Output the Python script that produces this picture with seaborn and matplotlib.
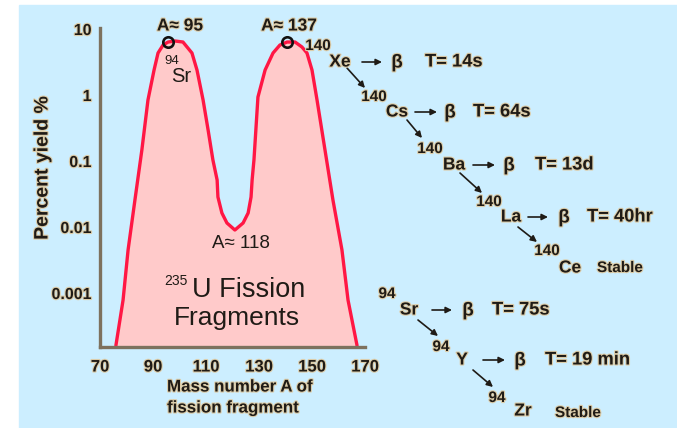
import matplotlib
matplotlib.use("Agg")
import matplotlib.pyplot as plt
import matplotlib.patheffects as pe
from matplotlib.ticker import FixedLocator, FixedFormatter, NullLocator
import seaborn as sns
import pandas as pd

# ---------------- data ----------------
mass_number = [76.0, 78.7, 80.6, 83.2, 85.8, 88.1, 90.4, 91.9, 93.8, 95.7, 98.3, 101.3,
               104.7, 106.6, 108.9, 110.8, 112.6, 114.2, 114.5, 116.0, 117.9, 120.9,
               124.0, 125.9, 127.0, 127.4, 128.1, 129.6, 132.3, 135.3, 137.9, 140.6,
               143.6, 146.2, 148.1, 150.0, 151.9, 154.9, 157.9, 161.3, 163.6, 167.0]
yield_pct = [1.6e-4, 7.8e-4, 4.5e-3, 0.026, 0.147, 0.84, 2.39, 4.33, 5.72, 6.35, 6.58, 6.35,
             4.33, 2.39, 0.84, 0.294, 0.104, 0.0515, 0.0285, 0.0163, 0.0115, 0.0090,
             0.0115, 0.0163, 0.0285, 0.0515, 0.104, 0.93, 2.39, 4.33, 5.72, 6.35,
             6.35, 5.34, 4.33, 2.39, 0.84, 0.147, 0.0257, 4.5e-3, 7.8e-4, 1.6e-4]
peak_A = [95.7, 140.6]
peak_yield = [6.35, 6.35]

x_ticks = [70, 90, 110, 130, 150, 170]
y_ticks = [10, 1, 0.1, 0.01, 0.001]
y_tick_labels = ["10", "1", "0.1", "0.01", "0.001"]

peak_labels = ["A\u2248 95", "A\u2248 137"]
valley_label = "A\u2248 118"

chain140_nuclides = ["Xe", "Cs", "Ba", "La", "Ce"]
chain140_halflives = ["T= 14s", "T= 64s", "T= 13d", "T= 40hr", "Stable"]
chain94_nuclides = ["Sr", "Y", "Zr"]
chain94_halflives = ["T= 75s", "T= 19 min", "Stable"]

# ---------------- figure ----------------
W, H = 677, 428
sns.set_style("white")
plt.rcParams["font.family"] = ["Liberation Sans", "DejaVu Sans"]

fig = plt.figure(figsize=(W / 100, H / 100), dpi=100, facecolor="white")
BG = "#cceeff"
fig.patches.append(plt.Rectangle((19 / W, 0), 1 - 19 / W, 1 - 5 / H,
                                 transform=fig.transFigure, color=BG, zorder=-10))


def P(x, y):
    return (x / W, 1 - y / H)


ax_left, ax_right, ax_top, ax_bot = 100, 365, 27.6, 347
ax = fig.add_axes([ax_left / W, 1 - ax_bot / H, (ax_right - ax_left) / W, (ax_bot - ax_top) / H])
ax.set_facecolor("none")
ax.set_zorder(2)

df = pd.DataFrame({"A": mass_number, "Y": yield_pct})
ax.set_yscale("log")
ax.fill_between(df["A"], df["Y"], 1e-6, color="#ffcaca", lw=0, zorder=1)
sns.lineplot(data=df, x="A", y="Y", ax=ax, color="#ff1744", linewidth=2.4,
             sort=False, zorder=3, solid_joinstyle="round")
ax.plot(peak_A, peak_yield, "o", mfc="none", mec="#111111", ms=7.5, mew=1.9,
        zorder=4, clip_on=False)

ax.set_xlim(70, 170)
ax.set_ylim(1.52e-4, 10.5)

spine_c = "#7d715e"
for s in ["top", "right"]:
    ax.spines[s].set_visible(False)
for s in ["left", "bottom"]:
    ax.spines[s].set_color(spine_c)
    ax.spines[s].set_linewidth(2.4)
    ax.spines[s].set_zorder(5)

halo = [pe.withStroke(linewidth=1.6, foreground="#dccdaa")]
txt_c = "#1f1b16"

ax.xaxis.set_major_locator(FixedLocator(x_ticks))
ax.yaxis.set_major_locator(FixedLocator(y_ticks))
ax.yaxis.set_major_formatter(FixedFormatter(y_tick_labels))
ax.yaxis.set_minor_locator(NullLocator())
ax.xaxis.set_minor_locator(NullLocator())
ax.tick_params(axis="y", direction="in", length=8, width=2.2, color=spine_c,
               pad=6, labelsize=11.5, labelcolor=txt_c)
ax.tick_params(axis="x", direction="out", length=5, width=2.0, color=spine_c,
               pad=4, labelsize=12, labelcolor=txt_c)
for lab in ax.get_xticklabels() + ax.get_yticklabels():
    lab.set_fontweight("bold")
    lab.set_path_effects(halo)
ax.set_xlabel("")
ax.set_ylabel("")


def T(x, y, s, size=12, weight="bold", ha="center", va="center", **kw):
    t = fig.text(*P(x, y), s, fontsize=size, fontweight=weight, ha=ha, va=va,
                 color=txt_c, zorder=6, **kw)
    if weight == "bold":
        t.set_path_effects(halo)
    return t


def arrow(x1, y1, x2, y2):
    ax.annotate("", xy=P(x2, y2), xytext=P(x1, y1), xycoords="figure fraction",
                textcoords="figure fraction", annotation_clip=False,
                arrowprops=dict(arrowstyle="-|>", color="#1f1b16", lw=1.2,
                                mutation_scale=9, shrinkA=0, shrinkB=0))


# axis labels
T(43, 168, "Percent yield %", size=14, rotation=90)
T(167, 387, "Mass number A of", size=12.2, ha="left")
T(167, 408, "fission fragment", size=12.2, ha="left")

# peak / valley labels
T(180, 26, peak_labels[0], size=12.5)
T(289, 26, peak_labels[1], size=12.5)
T(241, 243, valley_label, size=13.5, weight="normal")
T(172, 61, "94", size=9.5, weight="normal")
T(181, 76, "Sr", size=14.5, weight="normal")

# big label
T(176, 281, "235", size=10, weight="normal")
T(192, 290, "U Fission", size=19.5, weight="normal", ha="left")
T(237, 318, "Fragments", size=19, weight="normal")

# A=140 decay chain
c140_mass_xy = [(318, 46), (374, 97), (430, 149), (489, 202), (547, 251)]
c140_sym_xy = [(340, 62), (397, 112), (454, 165), (511, 217), (570, 268)]
c140_arrow_x = [(362, 382), (415, 437), (473, 495), (528, 548)]
c140_beta_x = [397, 450, 509, 564]
c140_T_x = [425, 473, 535, 587, 597]
c140_diag = [((347, 68), (365, 88)), ((407, 120), (422, 138)),
             ((460, 173), (482, 193)), ((518, 227), (537, 242))]
for i, sym in enumerate(chain140_nuclides):
    T(*c140_mass_xy[i], "140", size=11)
    T(*c140_sym_xy[i], sym, size=12.5)
    y = c140_sym_xy[i][1]
    if i < len(chain140_nuclides) - 1:
        arrow(c140_arrow_x[i][0], y, c140_arrow_x[i][1], y)
        T(c140_beta_x[i], y + 1, "\u03b2", size=13.5)
        T(c140_T_x[i], y, chain140_halflives[i], size=13.2, ha="left")
        arrow(*c140_diag[i][0], *c140_diag[i][1])
    else:
        T(c140_T_x[i], y, chain140_halflives[i], size=11, ha="left")

# A=94 decay chain
c94_mass_xy = [(387, 294), (441, 347), (497, 398)]
c94_sym_xy = [(409, 310), (462, 360), (523, 411)]
c94_arrow_x = [(432, 452), (483, 505)]
c94_beta_x = [468, 520]
c94_T_x = [492, 545, 555]
c94_diag = [((418, 320), (438, 336)), ((473, 370), (493, 387))]
for i, sym in enumerate(chain94_nuclides):
    T(*c94_mass_xy[i], "94", size=11)
    T(*c94_sym_xy[i], sym, size=12.5)
    y = c94_sym_xy[i][1]
    if i < len(chain94_nuclides) - 1:
        arrow(c94_arrow_x[i][0], y, c94_arrow_x[i][1], y)
        T(c94_beta_x[i], y + 1, "\u03b2", size=13.5)
        T(c94_T_x[i], y, chain94_halflives[i], size=13.2, ha="left")
        arrow(*c94_diag[i][0], *c94_diag[i][1])
    else:
        T(c94_T_x[i], y + 2, chain94_halflives[i], size=11, ha="left")

fig.savefig("out.png", dpi=100, facecolor="white")
